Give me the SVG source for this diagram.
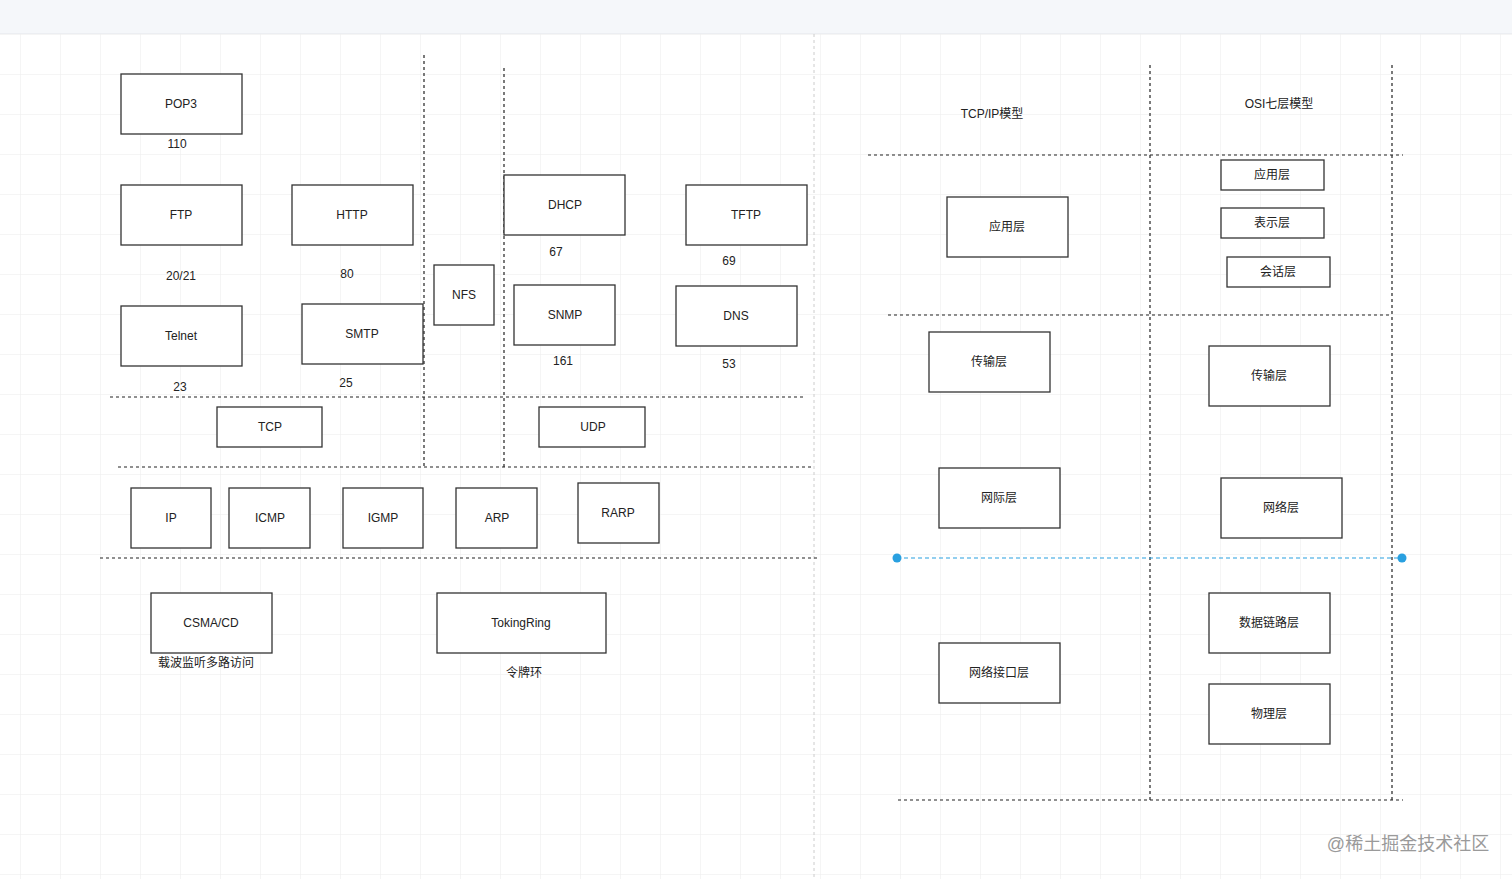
<svg xmlns="http://www.w3.org/2000/svg" width="1512" height="879" viewBox="0 0 1512 879">
<defs>
<style>
text{font-family:"Liberation Sans","Noto Sans CJK SC",sans-serif;font-size:12px;fill:#222;text-anchor:middle;dominant-baseline:central}
.n rect{fill:#fff;stroke:#333;stroke-width:1.3}
.d{stroke:#222;stroke-width:1.2;stroke-dasharray:3 3;fill:none}
.g{stroke:#ececec;stroke-width:1}
</style>
<pattern id="grid" x="20" y="34" width="40" height="40" patternUnits="userSpaceOnUse">
<path d="M0 0H40M0 0V40" class="g" fill="none"/>
</pattern>
</defs>
<rect width="1512" height="879" fill="#fff"/>
<rect y="34" width="1512" height="845" fill="url(#grid)"/>
<rect width="1512" height="33" fill="#f5f7fa"/>
<line x1="0" y1="33.5" x2="1512" y2="33.5" stroke="#eceef2"/>
<g id="connectors">
<line x1="814" y1="34" x2="814" y2="879" stroke="#ccc" stroke-dasharray="3 3"/>
<path class="d" d="M424 55V467M504 68V467M110 397H805M118 467H812M100 558H818"/>
<path class="d" d="M868 155H1403M888 315H1392M898 800H1403M1150 65V800M1392 65V800"/>
<line x1="897" y1="558" x2="1402" y2="558" stroke="#29a0e0" stroke-width="1.2" stroke-dasharray="4 3"/>
<circle cx="897" cy="558" r="4.5" fill="#29a0e0"/>
<circle cx="1402" cy="558" r="4.5" fill="#29a0e0"/>
</g>
<g id="pop3" class="n"><rect x="121" y="74" width="121" height="60"/><text x="181" y="104">POP3</text></g>
<g id="ftp" class="n"><rect x="121" y="185" width="121" height="60"/><text x="181" y="215">FTP</text></g>
<g id="http" class="n"><rect x="292" y="185" width="121" height="60"/><text x="352" y="215">HTTP</text></g>
<g id="telnet" class="n"><rect x="121" y="306" width="121" height="60"/><text x="181" y="336">Telnet</text></g>
<g id="smtp" class="n"><rect x="302" y="304" width="121" height="60"/><text x="362" y="334">SMTP</text></g>
<g id="nfs" class="n"><rect x="434" y="265" width="60" height="60"/><text x="464" y="295">NFS</text></g>
<g id="dhcp" class="n"><rect x="504" y="175" width="121" height="60"/><text x="565" y="205">DHCP</text></g>
<g id="tftp" class="n"><rect x="686" y="185" width="121" height="60"/><text x="746" y="215">TFTP</text></g>
<g id="snmp" class="n"><rect x="514" y="285" width="101" height="60"/><text x="565" y="315">SNMP</text></g>
<g id="dns" class="n"><rect x="676" y="286" width="121" height="60"/><text x="736" y="316">DNS</text></g>
<g id="tcp" class="n"><rect x="217" y="407" width="105" height="40"/><text x="270" y="427">TCP</text></g>
<g id="udp" class="n"><rect x="539" y="407" width="106" height="40"/><text x="593" y="427">UDP</text></g>
<g id="ip" class="n"><rect x="131" y="488" width="80" height="60"/><text x="171" y="518">IP</text></g>
<g id="icmp" class="n"><rect x="229" y="488" width="81" height="60"/><text x="270" y="518">ICMP</text></g>
<g id="igmp" class="n"><rect x="343" y="488" width="80" height="60"/><text x="383" y="518">IGMP</text></g>
<g id="arp" class="n"><rect x="456" y="488" width="81" height="60"/><text x="497" y="518">ARP</text></g>
<g id="rarp" class="n"><rect x="578" y="483" width="81" height="60"/><text x="618" y="513">RARP</text></g>
<g id="csma" class="n"><rect x="151" y="593" width="121" height="60"/><text x="211" y="623">CSMA/CD</text></g>
<g id="token" class="n"><rect x="437" y="593" width="169" height="60"/><text x="521" y="623">TokingRing</text></g>
<g id="labels">
<text x="177" y="144">110</text><text x="181" y="276">20/21</text><text x="347" y="274">80</text>
<text x="180" y="387">23</text><text x="346" y="383">25</text><text x="556" y="252">67</text>
<text x="729" y="261">69</text><text x="563" y="361">161</text><text x="729" y="364">53</text>
<text x="206" y="663">载波监听多路访问</text><text x="524" y="673">令牌环</text>
<text x="992" y="114">TCP/IP模型</text><text x="1279" y="104">OSI七层模型</text>
</g>
<g id="t-app" class="n"><rect x="947" y="197" width="121" height="60"/><text x="1007" y="227">应用层</text></g>
<g id="t-trans" class="n"><rect x="929" y="332" width="121" height="60"/><text x="989" y="362">传输层</text></g>
<g id="t-net" class="n"><rect x="939" y="468" width="121" height="60"/><text x="999" y="498">网际层</text></g>
<g id="t-if" class="n"><rect x="939" y="643" width="121" height="60"/><text x="999" y="673">网络接口层</text></g>
<g id="o-app" class="n"><rect x="1221" y="160" width="103" height="30"/><text x="1272" y="175">应用层</text></g>
<g id="o-pres" class="n"><rect x="1221" y="208" width="103" height="30"/><text x="1272" y="223">表示层</text></g>
<g id="o-sess" class="n"><rect x="1227" y="257" width="103" height="30"/><text x="1278" y="272">会话层</text></g>
<g id="o-trans" class="n"><rect x="1209" y="346" width="121" height="60"/><text x="1269" y="376">传输层</text></g>
<g id="o-net" class="n"><rect x="1221" y="478" width="121" height="60"/><text x="1281" y="508">网络层</text></g>
<g id="o-link" class="n"><rect x="1209" y="593" width="121" height="60"/><text x="1269" y="623">数据链路层</text></g>
<g id="o-phy" class="n"><rect x="1209" y="684" width="121" height="60"/><text x="1269" y="714">物理层</text></g>
<text x="1408" y="844" style="font-size:18px;fill:#9a9a9a">@稀土掘金技术社区</text>
</svg>
